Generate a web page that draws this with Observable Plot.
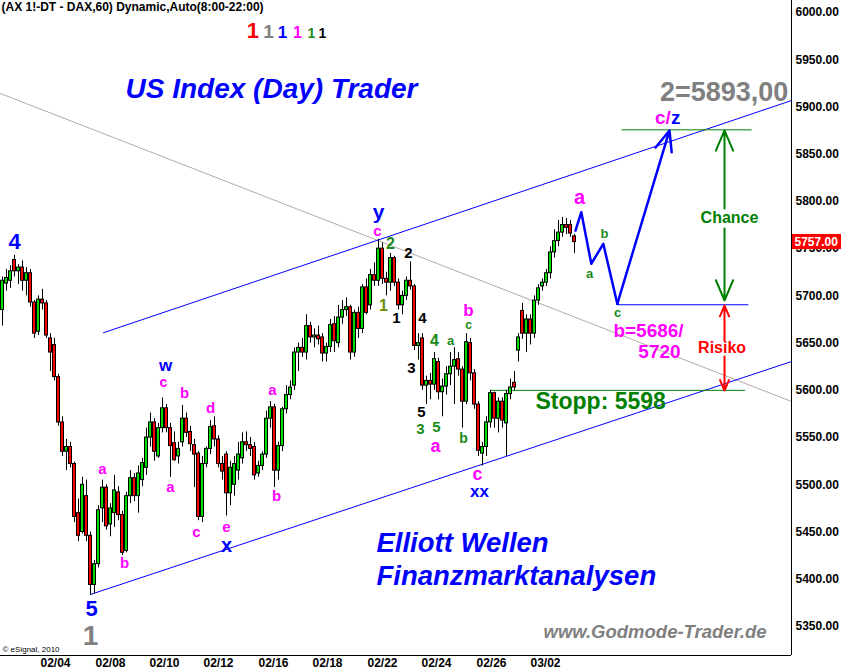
<!DOCTYPE html>
<html><head><meta charset="utf-8">
<script src="https://cdn.jsdelivr.net/npm/d3@7"></script>
<script src="https://cdn.jsdelivr.net/npm/@observablehq/plot@0.6"></script>
<style>html,body{margin:0;padding:0;background:#fff}#chart svg{display:block}</style>
</head><body><div id="chart"></div>
<script>
// ---- candle data (hourly DAX future) ----
const open  = [5685,5713,5716,5738,5726,5730,5716,5724,5693,5662,5696,5692,5655,5648,5614,5566,5535,5540,5522,5470,5450,5488,5446,5394,5416,5475,5497,5458,5470,5492,5468,5430,5488,5507,5488,5505,5518,5550,5566,5530,5560,5581,5560,5544,5530,5545,5570,5556,5542,5533,5466,5522,5538,5562,5548,5522,5532,5491,5500,5515,5528,5545,5542,5540,5512,5520,5532,5570,5582,5515,5541,5580,5595,5605,5640,5645,5640,5668,5656,5658,5656,5639,5646,5670,5650,5677,5685,5688,5640,5682,5665,5709,5690,5722,5716,5750,5718,5714,5740,5714,5690,5700,5716,5710,5647,5655,5605,5610,5606,5630,5598,5604,5617,5625,5633,5622,5588,5650,5618,5585,5533,5540,5566,5597,5570,5588,5565,5596,5608,5642,5684,5660,5675,5660,5695,5710,5714,5724,5746,5758,5767,5775,5775,5763];
const high  = [5720,5728,5732,5743,5733,5737,5730,5728,5695,5700,5707,5695,5660,5655,5617,5572,5548,5545,5524,5485,5508,5505,5450,5420,5478,5505,5500,5480,5510,5498,5472,5492,5515,5512,5520,5528,5560,5576,5570,5565,5592,5585,5565,5556,5545,5584,5576,5562,5548,5535,5530,5540,5568,5572,5552,5530,5535,5525,5530,5545,5555,5556,5550,5545,5525,5535,5578,5588,5585,5545,5582,5605,5610,5645,5650,5655,5680,5672,5665,5668,5660,5650,5675,5678,5690,5695,5698,5690,5685,5688,5712,5718,5728,5735,5760,5756,5725,5745,5742,5718,5705,5720,5736,5712,5660,5660,5615,5618,5640,5634,5612,5625,5640,5645,5640,5625,5660,5655,5622,5588,5545,5572,5600,5598,5592,5592,5600,5612,5620,5660,5692,5680,5680,5700,5712,5718,5728,5752,5770,5780,5783,5782,5780,5765];
const low   = [5668,5705,5708,5720,5712,5705,5700,5688,5655,5658,5685,5655,5620,5610,5562,5530,5515,5518,5460,5440,5448,5440,5383,5385,5412,5460,5452,5445,5455,5462,5425,5428,5480,5482,5470,5498,5510,5540,5525,5528,5555,5555,5508,5525,5522,5540,5550,5535,5497,5462,5460,5518,5532,5540,5518,5505,5467,5478,5488,5505,5522,5535,5530,5505,5508,5515,5528,5560,5497,5505,5535,5575,5590,5600,5620,5635,5632,5650,5645,5648,5630,5630,5640,5640,5645,5670,5678,5632,5635,5655,5660,5680,5685,5710,5710,5712,5700,5705,5710,5685,5680,5695,5706,5642,5632,5600,5585,5590,5600,5590,5572,5595,5605,5585,5615,5560,5585,5610,5580,5530,5520,5530,5560,5560,5555,5560,5530,5590,5600,5630,5654,5640,5648,5655,5690,5705,5710,5718,5740,5752,5762,5765,5762,5745];
const close = [5716,5719,5726,5726,5730,5716,5724,5693,5660,5696,5692,5658,5640,5614,5566,5535,5540,5522,5466,5446,5500,5446,5394,5416,5473,5497,5456,5475,5494,5468,5428,5488,5507,5488,5512,5523,5550,5566,5535,5560,5581,5560,5541,5526,5538,5570,5555,5543,5532,5466,5522,5538,5561,5548,5522,5514,5491,5518,5522,5532,5545,5542,5538,5510,5520,5532,5570,5582,5515,5541,5580,5595,5603,5640,5645,5640,5668,5656,5658,5654,5639,5646,5669,5652,5677,5685,5688,5640,5682,5665,5709,5682,5722,5716,5750,5718,5714,5740,5714,5690,5700,5716,5710,5647,5650,5605,5610,5606,5633,5598,5604,5617,5625,5632,5622,5588,5651,5618,5585,5536,5540,5566,5597,5570,5588,5568,5596,5603,5603,5656,5660,5675,5660,5695,5708,5714,5724,5746,5758,5767,5775,5772,5766,5757];

// ---- axes ----
const yTicks = [5350,5400,5450,5500,5550,5600,5650,5700,5750,5800,5850,5900,5950,6000];
const dateTicks = [13.25,27,40.5,54,67.75,81.25,95,108.5,122.25,135.75];
const dateLabels = ["02/04","02/08","02/10","02/12","02/16","02/18","02/22","02/24","02/26","03/02"];

// ---- drawn lines (bar index, price) ----
const upperChannel = [{i:25.25,p:5661},{i:197.25,p:5906.8}];
const lowerChannel = [{i:22,p:5383.9},{i:197.25,p:5630.5}];
const greyLine     = [{i:-0.5,p:5914.2},{i:197.25,p:5588.2}];
const projection   = [{i:143.25,p:5769.2},{i:144.7,p:5788.6},{i:147.2,p:5734},{i:150.2,p:5755.1},{i:153.7,p:5691.6}];
const projArrow    = [{i1:153.7,p1:5691.6,i2:166.75,p2:5875.1}];
const levelLines   = [
  {p:5875.8,i1:154.9,i2:187.4,c:"#008000"},
  {p:5690.6,i1:153.7,i2:186.6,c:"#0000ff"},
  {p:5600,  i1:122,  i2:185.75,c:"#008000"}
];
const rangeArrows = [
  {i:180.5,p1:5792.5,p2:5875.1,c:"#008000"},
  {i:180.5,p1:5771.3,p2:5695.1,c:"#008000"},
  {i:180.5,p1:5652.7,p2:5689.8,c:"#ff0000"},
  {i:180.5,p1:5635.8,p2:5599.8,c:"#ff0000"}
];

// ---- labels ----
const BLUE="#0000ff", MAG="#ff00ff", GRN="#1a8a1a", BLK="#000000", GRY="#808080", OLV="#6b8e00";
const waveLabels = [
  {i:3,p:5757.6,t:"4",c:BLUE,s:22},
  {i:22.25,p:5369,t:"5",c:BLUE,s:22},
  {i:22,p:5340.4,t:"1",c:GRY,s:28},
  {i:25,p:5516.2,t:"a",c:MAG,s:15},
  {i:30.5,p:5416.7,t:"b",c:MAG,s:15},
  {i:40.75,p:5626.3,t:"w",c:BLUE,s:17},
  {i:40.25,p:5608.3,t:"c",c:MAG,s:14},
  {i:45.5,p:5596.6,t:"b",c:MAG,s:15},
  {i:42,p:5497.1,t:"a",c:MAG,s:15},
  {i:52,p:5580.8,t:"d",c:MAG,s:15},
  {i:48.5,p:5449.5,t:"c",c:MAG,s:15},
  {i:56,p:5454.8,t:"e",c:MAG,s:15},
  {i:56,p:5435.7,t:"x",c:BLUE,s:20},
  {i:67.5,p:5599.8,t:"a",c:MAG,s:15},
  {i:68.5,p:5487.6,t:"b",c:MAG,s:15},
  {i:94,p:5788.3,t:"y",c:BLUE,s:21},
  {i:93.75,p:5768.1,t:"c",c:MAG,s:15},
  {i:97,p:5755.4,t:"2",c:GRN,s:16},
  {i:101.5,p:5744.8,t:"2",c:BLK,s:15},
  {i:95.25,p:5689.8,t:"1",c:OLV,s:16},
  {i:98.5,p:5676,t:"1",c:BLK,s:15},
  {i:105,p:5676,t:"4",c:BLK,s:15},
  {i:108,p:5652.7,t:"4",c:GRN,s:16},
  {i:112,p:5652.7,t:"a",c:GRN,s:13},
  {i:102.25,p:5623.1,t:"3",c:BLK,s:15},
  {i:104.75,p:5576.5,t:"5",c:BLK,s:15},
  {i:104.5,p:5558.5,t:"3",c:GRN,s:15},
  {i:108.5,p:5560.6,t:"5",c:GRN,s:15},
  {i:108.25,p:5540.4,t:"a",c:MAG,s:18},
  {i:116.5,p:5684.5,t:"b",c:MAG,s:17},
  {i:116.5,p:5668.6,t:"c",c:GRN,s:12},
  {i:115.25,p:5549,t:"b",c:GRN,s:14},
  {i:118.75,p:5511.4,t:"c",c:MAG,s:18},
  {i:119.25,p:5492.4,t:"xx",c:BLUE,s:17},
  {i:144.25,p:5804.1,t:"a",c:MAG,s:20},
  {i:150.5,p:5766,t:"b",c:GRN,s:13},
  {i:146.75,p:5723.7,t:"a",c:GRN,s:13},
  {i:153.75,p:5682.4,t:"c",c:GRN,s:13},
  // header row of degree markers
  {i:62.6,p:5980.9,t:"1",c:"#ff0000",s:22},
  {i:66.5,p:5979.9,t:"1",c:GRY,s:19},
  {i:70,p:5978.8,t:"1",c:BLUE,s:17},
  {i:73.75,p:5978.8,t:"1",c:MAG,s:16},
  {i:77.25,p:5977.8,t:"1",c:GRN,s:14},
  {i:80,p:5977.8,t:"1",c:BLK,s:14}
];
const centerNotes = [
  {i:180.4,p:5915.3,t:"2=5893,00",c:GRY,s:27},
  {i:161.5,p:5663.3,t:"b=5686/",c:MAG,s:19},
  {i:164.25,p:5641.1,t:"5720",c:MAG,s:19},
  {i:181.75,p:5783.0,t:"Chance",c:"#008000",s:16},
  {i:179.9,p:5644.8,t:"Risiko",c:"#ff0000",s:16}
];
const startNotes = [
  {i:133.25,p:5588.2,t:"Stopp: 5598",c:"#008000",s:23,st:"normal"},
  {i:30.75,p:5918.5,t:"US Index (Day) Trader",c:BLUE,s:28,st:"italic"},
  {i:93.5,p:5437.8,t:"Elliott Wellen",c:BLUE,s:27.5,st:"italic"},
  {i:93.5,p:5402.9,t:"Finanzmarktanalysen",c:BLUE,s:27.5,st:"italic"},
  {i:135.25,p:5343.6,t:"www.Godmode-Trader.de",c:"#7f7f7f",s:18.5,st:"italic"},
  {i:167.1,p:5888.8,t:"z",c:BLUE,s:19,st:"normal"}
];
const header = "(AX 1!-DT - DAX,60) Dynamic,Auto(8:00-22:00)";

const candles = open.map((o,k)=>({i:k,open:o,high:high[k],low:low[k],close:close[k]}));
const last = candles[candles.length-1];

const chart = Plot.plot({
  width:841, height:671,
  marginLeft:0, marginRight:50, marginTop:0, marginBottom:16,
  style:{fontFamily:"'Liberation Sans', Arial, Helvetica, sans-serif", fontSize:"12px", background:"#ffffff", overflow:"visible"},
  x:{domain:[-0.5,197.25]},
  y:{domain:[5319.3,6012.7]},
  color:{type:"identity"},
  marks:[
    Plot.line(greyLine,{x:"i",y:"p",stroke:"#b8a8a8",strokeWidth:1}),
    Plot.line(upperChannel,{x:"i",y:"p",stroke:BLUE,strokeWidth:1}),
    Plot.line(lowerChannel,{x:"i",y:"p",stroke:BLUE,strokeWidth:1}),
    Plot.ruleY(levelLines,{y:"p",x1:"i1",x2:"i2",stroke:"c",strokeWidth:1}),
    Plot.ruleX(candles,{x:"i",y1:"low",y2:"high",stroke:"#000",strokeWidth:1}),
    Plot.rect(candles,{x1:d=>d.i-0.375,x2:d=>d.i+0.375,y1:"open",y2:"close",
      fill:d=>d.close>=d.open?"#00dd00":"#ff0000",stroke:"#000",strokeWidth:1}),
    Plot.line(projection,{x:"i",y:"p",stroke:BLUE,strokeWidth:2.5}),
    Plot.arrow(projArrow,{x1:"i1",y1:"p1",x2:"i2",y2:"p2",stroke:BLUE,strokeWidth:2.5,headLength:13.2,headAngle:45}),
    Plot.arrow(rangeArrows,{x1:"i",y1:"p1",x2:"i",y2:"p2",stroke:"c",strokeWidth:2,headLength:16.5,headAngle:46}),
    Plot.text(waveLabels,{x:"i",y:"p",text:"t",fill:"c",fontSize:d=>d.s,fontWeight:"bold"}),
    Plot.text(centerNotes,{x:"i",y:"p",text:"t",fill:"c",fontSize:d=>d.s,fontWeight:"bold"}),
    Plot.text(startNotes.filter(d=>d.st==="italic"),{x:"i",y:"p",text:"t",fill:"c",fontSize:d=>d.s,fontWeight:"bold",fontStyle:"italic",textAnchor:"start"}),
    Plot.text(startNotes.filter(d=>d.st!=="italic"),{x:"i",y:"p",text:"t",fill:"c",fontSize:d=>d.s,fontWeight:"bold",textAnchor:"start"}),
    Plot.text([{i:167.1,p:5888.8}],{x:"i",y:"p",text:()=>"c/",fill:MAG,fontSize:19,fontWeight:"bold",textAnchor:"end"}),
    Plot.text([header],{frameAnchor:"top-left",dx:1,dy:2,fontSize:12,fontWeight:"bold",fill:"#000"}),
    Plot.text(["\u00A9 eSignal, 2010"],{frameAnchor:"bottom-left",dx:2,dy:-4,fontSize:8,fill:"#000"}),
    Plot.ruleX([197.25],{stroke:"#000",strokeWidth:1}),
    Plot.ruleY([5319.3],{stroke:"#000",strokeWidth:1}),
    Plot.axisY(yTicks,{anchor:"right",tickSize:0,tickPadding:4,tickFormat:d=>d.toFixed(2),fontWeight:"bold",fontSize:12,label:null}),
    Plot.axisX(dateTicks,{anchor:"bottom",tickSize:0,tickPadding:3,tickFormat:d=>dateLabels[dateTicks.indexOf(d)],fontWeight:"bold",fontSize:12,label:null}),
    Plot.rect([last],{x1:()=>197.5,x2:()=>209.75,y1:d=>d.close-8,y2:d=>d.close+8,fill:"#ff0000"}),
    Plot.text([last],{x:()=>197.25,y:"close",text:d=>d.close.toFixed(2),dx:3,textAnchor:"start",fill:"#ffffff",fontSize:12,fontWeight:"bold"})
  ]
});
document.getElementById("chart").appendChild(chart);
</script>
</body></html>
